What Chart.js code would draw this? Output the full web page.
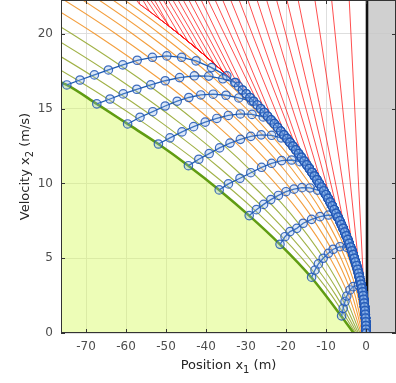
<!DOCTYPE html>
<html>
<head>
<meta charset="utf-8">
<script src="https://cdn.jsdelivr.net/npm/chart.js@4.4.1/dist/chart.umd.min.js"></script>
<style>
  html, body { margin: 0; padding: 0; background: #fff; }
  #wrap { width: 396px; height: 383px; }
</style>
</head>
<body>
<div id="wrap"><canvas id="phaseChart" width="396" height="383"></canvas></div>
<script>
// Axis limits and tick values
const xRange = [-76.25, 7.5];
const yRange = [0, 22.27];
const xTicks = [-70, -60, -50, -40, -30, -20, -10, 0];
const yTicks = [0, 5, 10, 15, 20];

// Green boundary of the shaded region
const boundX = [-78.5, -74.8, -67.3, -59.6, -51.9, -44.4, -36.7, -29.2, -21.5, -13.7, -6.2, -3.1];
const boundY = [17.0, 16.59, 15.32, 13.98, 12.64, 11.19, 9.57, 7.85, 5.93, 3.73, 1.14, 0];

// Braking envelope (velocity, position) where trajectories pile up
const envV = [0, 0.25, 0.5, 0.75, 1, 1.25, 1.5, 1.75, 2, 2.25, 2.5, 2.75, 3, 3.25, 3.5, 3.75, 4, 4.25,
  4.5, 4.75, 5, 5.25, 5.5, 5.75, 6, 6.25, 6.5, 6.75, 7, 7.25, 7.5, 7.75, 8, 8.25, 8.5, 8.75, 9, 9.25,
  9.5, 9.75, 10, 10.25, 10.5, 10.75, 11, 11.25, 11.5, 11.75, 12, 12.25, 12.5, 12.75, 13, 13.25, 13.5,
  13.75, 14, 14.25, 14.5, 14.75, 15, 15.25, 15.5, 15.75, 16, 16.25, 16.5, 16.75, 17, 17.25, 17.5,
  17.75, 18, 18.25, 18.5, 18.75, 19, 19.25, 19.5, 19.75, 20, 20.25, 20.5, 20.75, 21, 21.25, 21.5,
  21.75, 22, 22.25, 22.5];
const envX = [0, -0.01, -0.03, -0.07, -0.12, -0.18, -0.26, -0.36, -0.47, -0.59, -0.73, -0.88, -1.05,
  -1.24, -1.43, -1.65, -1.87, -2.11, -2.37, -2.64, -2.93, -3.22, -3.54, -3.87, -4.21, -4.57, -4.94,
  -5.33, -5.73, -6.15, -6.58, -7.03, -7.49, -7.96, -8.45, -8.96, -9.48, -10.01, -10.56, -11.12, -11.7,
  -12.29, -12.9, -13.52, -14.16, -14.81, -15.47, -16.15, -16.85, -17.56, -18.28, -19.02, -19.77,
  -20.54, -21.32, -22.12, -22.93, -23.76, -24.6, -25.45, -26.33, -27.21, -28.11, -29.02, -29.95,
  -30.9, -31.85, -32.83, -33.81, -34.82, -35.83, -36.86, -37.91, -38.97, -40.04, -41.13, -42.24,
  -43.36, -44.49, -45.64, -46.8, -47.98, -49.17, -50.38, -51.6, -52.84, -54.08, -55.35, -56.63,
  -57.92, -59.23];

// Olive / orange curves: position at each velocity level
const famV = [0, 2.5, 5, 8, 11, 14, 17, 20, 22.3, 24];
const famX = [
  [-2.61, -8.56, -16.02, -26.94, -40.03, -55.27, -72.69, -92.3, -108.8, -121.8],
  [-2.25, -7.48, -14.21, -24.26, -36.46, -50.81, -67.32, -86.02, -101.85, -114.3],
  [-1.89, -6.4, -12.41, -21.58, -32.9, -46.35, -61.96, -79.75, -94.87, -106.8],
  [-1.53, -5.32, -10.6, -18.89, -29.33, -41.89, -56.6, -73.47, -87.88, -99.3],
  [-1.2, -4.33, -8.95, -16.43, -26.06, -37.8, -51.68, -67.72, -81.48, -92.4],
  [-0.9, -3.43, -7.44, -14.2, -23.08, -34.08, -47.21, -62.49, -75.66, -86.15],
  [-0.66, -2.71, -6.24, -12.41, -20.7, -31.11, -43.63, -58.31, -71.0, -81.15],
  [-0.45, -2.08, -5.19, -10.84, -18.62, -28.51, -40.5, -54.64, -66.93, -76.77],
  [-0.27, -1.54, -4.28, -9.5, -16.84, -26.28, -37.82, -51.51, -63.44, -73.02],
  [-0.12, -1.09, -3.53, -8.38, -15.35, -24.42, -35.59, -48.89, -60.53, -69.9]
];

// Red lines: where each leaves the top edge, and the speed where it meets the envelope
const redTopX = [-57.6, -56.8, -55.9, -55.0, -54.0, -53.0, -51.9, -50.8, -49.6, -48.4, -47.1, -45.8,
  -44.4, -42.9, -41.3, -39.6, -37.8, -35.9, -33.9, -31.8, -29.6, -27.3, -24.9, -22.4, -19.8, -17.0,
  -12.8, -8.6, -4.2];
const redJoinV = [22, 22, 21.5, 21, 20.5, 20.5, 20, 19.5, 19, 18.5, 18, 17.5, 17, 16.5, 16, 15, 14.5,
  14, 13, 12, 11.5, 10.5, 9.5, 8.5, 7.5, 6.5, 5, 3.5, 1.5];

// Blue trajectories, markers up to where they reach the envelope
const arcX = [
  [-74.8, -71.5, -67.9, -64.4, -60.8, -57.2, -53.4, -49.8, -46.1, -42.5, -38.6, -34.8],
  [-67.3, -64.0, -60.7, -57.3, -53.8, -50.2, -46.6, -42.9, -39.3, -35.8, -32.6],
  [-59.6, -56.5, -53.3, -50.2, -47.2, -44.3, -41.3, -38.2, -35.0, -31.8, -28.6],
  [-51.9, -49.0, -46.0, -43.1, -40.2, -37.3, -34.4, -31.4, -28.5, -25.7, -23.4],
  [-44.4, -41.8, -39.2, -36.6, -34.0, -31.4, -28.8, -26.2, -23.6, -21.2, -19.2],
  [-36.7, -34.4, -31.5, -28.8, -26.1, -23.6, -21.1, -18.6, -16.5, -14.9],
  [-29.2, -27.4, -25.6, -23.8, -21.9, -20.0, -18.0, -16.0, -14.0, -12.1, -10.3],
  [-21.5, -20.25, -19.0, -17.3, -15.7, -13.6, -11.5, -9.4, -7.3, -6.6],
  [-13.6, -12.75, -11.9, -10.7, -9.4, -8.2, -6.5, -4.8, -3.6],
  [-6.1, -5.7, -5.25, -4.8, -4.0, -3.2, -1.9, -1.1]
];
const arcY = [
  [16.59, 16.92, 17.26, 17.59, 17.93, 18.24, 18.44, 18.53, 18.44, 18.2, 17.75, 17.2],
  [15.32, 15.65, 15.99, 16.3, 16.6, 16.87, 17.08, 17.2, 17.18, 17.0, 16.75],
  [13.98, 14.43, 14.8, 15.18, 15.5, 15.75, 15.92, 15.97, 15.9, 15.72, 15.5],
  [12.64, 13.05, 13.45, 13.8, 14.1, 14.35, 14.55, 14.65, 14.62, 14.45, 14.15],
  [11.19, 11.62, 12.0, 12.38, 12.7, 12.95, 13.15, 13.25, 13.22, 13.05, 12.8],
  [9.57, 9.97, 10.35, 10.72, 11.08, 11.35, 11.53, 11.57, 11.46, 11.28],
  [7.85, 8.25, 8.6, 8.92, 9.2, 9.45, 9.62, 9.72, 9.7, 9.55, 9.35],
  [5.93, 6.44, 6.78, 7.0, 7.34, 7.6, 7.78, 7.89, 7.78, 7.5],
  [3.73, 4.21, 4.62, 5.0, 5.33, 5.6, 5.77, 5.73, 5.55],
  [1.14, 1.65, 2.1, 2.47, 2.88, 3.1, 3.21, 3.1]
];

// envelope points below a given speed, from fast to slow
function envelopeBelow(v) {
  const pts = [];
  for (let i = envV.length - 1; i >= 0; i--) {
    if (envV[i] <= v) pts.push({ x: envX[i], y: envV[i] });
  }
  return pts;
}

const datasets = [];

// shaded region + green boundary
datasets.push({
  data: boundX.map((x, i) => ({ x: x, y: boundY[i] })),
  borderColor: "#609c12",
  borderWidth: 2.6,
  backgroundColor: "rgba(214,250,96,0.45)",
  fill: "origin",
  pointRadius: 0,
  cubicInterpolationMode: "monotone",
  order: 3,
});

// olive and orange curves
famX.forEach((row, k) => {
  datasets.push({
    data: row.map((x, i) => ({ x: x, y: famV[i] })),
    borderColor: k < 4 ? "rgba(150,168,50,0.9)" : "rgba(242,148,40,0.9)",
    borderWidth: 1.1,
    pointRadius: 0,
    cubicInterpolationMode: "monotone",
    order: 6,
  });
});

// red lines
redTopX.forEach((x, k) => {
  datasets.push({
    data: [{ x: x, y: yRange[1] + 0.05 }].concat(envelopeBelow(redJoinV[k])),
    borderColor: "rgba(255,20,20,0.75)",
    borderWidth: 1,
    pointRadius: 0,
    order: 5,
  });
});

// blue trajectories with circle markers
arcX.forEach((row, k) => {
  const last = arcY[k][arcY[k].length - 1];
  const pts = row.map((x, i) => ({ x: x, y: arcY[k][i] }));
  datasets.push({
    data: pts.concat(envelopeBelow(last - 0.3)),
    borderColor: "#1d5bb0",
    borderWidth: 1.3,
    pointRadius: 4.2,
    pointBorderWidth: 1.2,
    pointBorderColor: "rgba(30,85,180,0.85)",
    pointBackgroundColor: "rgba(140,180,235,0.3)",
    order: 1,
  });
});

// grey zone right of the stop line, and the stop line itself
const stopZone = {
  id: "stopZone",
  beforeDatasetsDraw(chart) {
    const { ctx, chartArea: a, scales } = chart;
    const x0 = scales.x.getPixelForValue(0);
    ctx.save();
    ctx.fillStyle = "rgba(200,200,200,0.85)";
    ctx.fillRect(x0, a.top, a.right - x0, a.bottom - a.top);
    ctx.strokeStyle = "#111";
    ctx.lineWidth = 2.6;
    ctx.beginPath();
    ctx.moveTo(x0 + 1, a.top);
    ctx.lineTo(x0 + 1, a.bottom);
    ctx.stroke();
    ctx.restore();
  },
};

// draw "x" + subscript title text
function drawSubTitle(ctx, parts, cx, cy) {
  const big = "13px 'DejaVu Sans'";
  const small = "10px 'DejaVu Sans'";
  let w = 0;
  parts.forEach((p) => {
    ctx.font = p[1] ? small : big;
    w += ctx.measureText(p[0]).width;
  });
  let x = cx - w / 2;
  parts.forEach((p) => {
    ctx.font = p[1] ? small : big;
    ctx.fillText(p[0], x, p[1] ? cy + 4 : cy);
    x += ctx.measureText(p[0]).width;
  });
}

// box, inward ticks and axis titles
const frame = {
  id: "frame",
  afterDraw(chart) {
    const { ctx, chartArea: a, scales } = chart;
    ctx.save();
    ctx.strokeStyle = "#333";
    ctx.lineWidth = 1;
    ctx.strokeRect(a.left + 0.5, a.top + 0.5, a.right - a.left - 1, a.bottom - a.top - 1);
    ctx.beginPath();
    xTicks.forEach((v) => {
      const px = Math.round(scales.x.getPixelForValue(v)) + 0.5;
      ctx.moveTo(px, a.bottom); ctx.lineTo(px, a.bottom - 4);
      ctx.moveTo(px, a.top); ctx.lineTo(px, a.top + 4);
    });
    yTicks.forEach((v) => {
      const py = Math.round(scales.y.getPixelForValue(v)) + 0.5;
      ctx.moveTo(a.left, py); ctx.lineTo(a.left + 4, py);
      ctx.moveTo(a.right, py); ctx.lineTo(a.right - 4, py);
    });
    ctx.stroke();

    ctx.fillStyle = "#262626";
    ctx.textBaseline = "alphabetic";
    drawSubTitle(ctx, [["Position x", false], ["1", true], [" (m)", false]], (a.left + a.right) / 2, 369);
    ctx.translate(29, (a.top + a.bottom) / 2);
    ctx.rotate(-Math.PI / 2);
    drawSubTitle(ctx, [["Velocity x", false], ["2", true], [" (m/s)", false]], 0, 0);
    ctx.restore();
  },
};

// keep the plot box exactly where the reference has it
function noPad(s) {
  s.paddingTop = 0;
  s.paddingBottom = 0;
  s.paddingLeft = 0;
  s.paddingRight = 0;
}

new Chart(document.getElementById("phaseChart").getContext("2d"), {
  type: "scatter",
  data: { datasets: datasets.map((d) => Object.assign({ showLine: true }, d)) },
  options: {
    responsive: false,
    animation: false,
    devicePixelRatio: 1,
    layout: { padding: 0, autoPadding: false },
    plugins: { legend: { display: false }, tooltip: { enabled: false } },
    scales: {
      x: {
        type: "linear",
        min: xRange[0],
        max: xRange[1],
        afterBuildTicks: (s) => { s.ticks = xTicks.map((v) => ({ value: v })); },
        afterFit: (s) => { s.height = 50; noPad(s); },
        grid: { color: "#dedede", drawTicks: false },
        border: { display: false },
        ticks: {
          color: "#4d4d4d",
          font: { family: "DejaVu Sans", size: 12 },
          padding: 7,
          maxRotation: 0,
          autoSkip: false,
        },
      },
      y: {
        type: "linear",
        min: yRange[0],
        max: yRange[1],
        afterBuildTicks: (s) => { s.ticks = yTicks.map((v) => ({ value: v })); },
        afterFit: (s) => { s.width = 61; noPad(s); },
        grid: { color: "#dedede", drawTicks: false },
        border: { display: false },
        ticks: {
          color: "#4d4d4d",
          font: { family: "DejaVu Sans", size: 12 },
          padding: 8,
          autoSkip: false,
        },
      },
    },
  },
  plugins: [stopZone, frame],
});
</script>
</body>
</html>
